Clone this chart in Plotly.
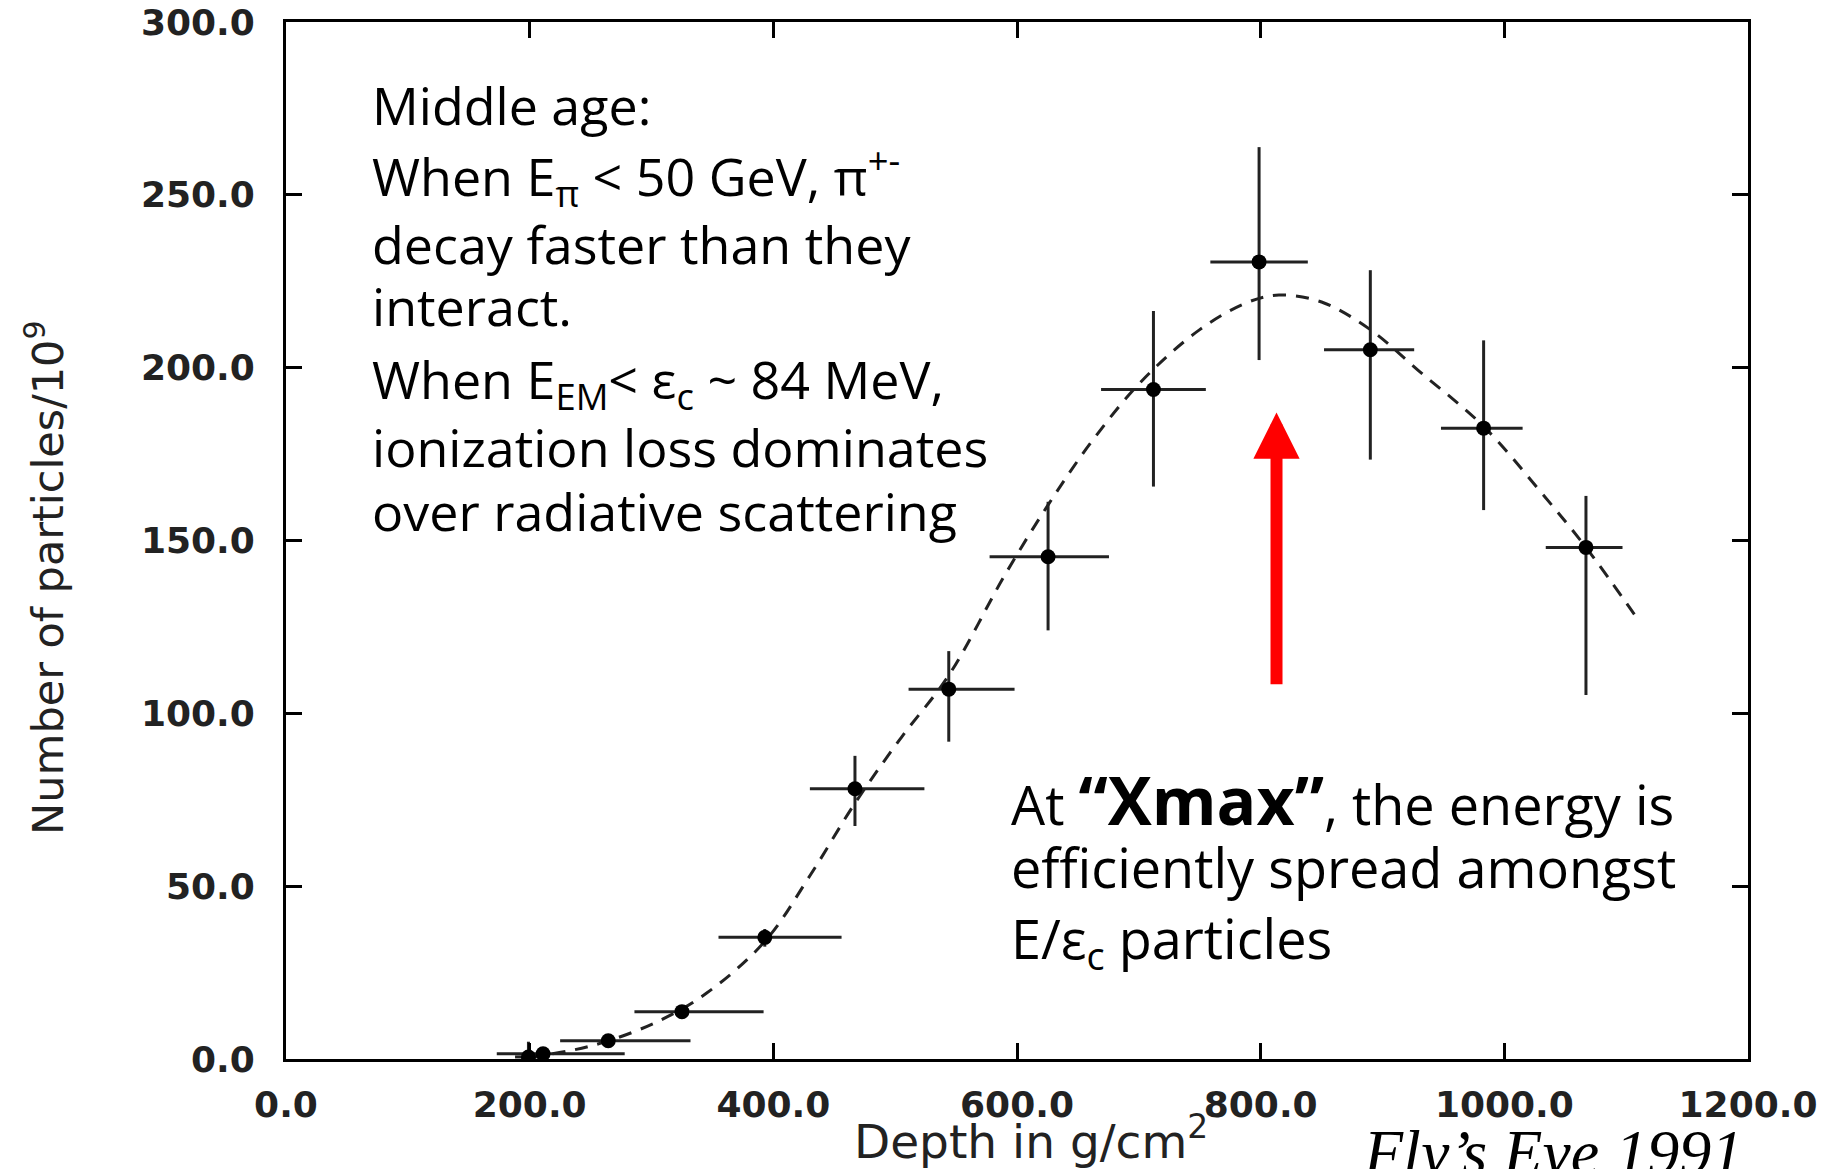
import plotly.graph_objects as go

# Shower profile: depth (g/cm^2) vs number of particles (units of 1e9)
depth = [199, 211, 264.5, 325, 393, 467, 544, 625.5, 712, 798.7, 890, 983, 1067]
particles = [0.6, 1.5, 5.3, 13.7, 35.2, 78.2, 107, 145.3, 193.7, 230.6, 205.2, 182.5, 148]
depth_err_lo = [11, 38, 39.5, 39, 38, 37, 33, 48, 43, 40, 38, 35, 33]
depth_err_hi = [8, 67, 67.5, 67, 63, 57, 54, 50, 43, 40, 36, 32, 30]
part_err_lo = [0.6, 0, 0, 0, 2.7, 10.8, 15.2, 21.3, 28.1, 28.4, 31.8, 23.7, 42.7]
part_err_hi = [4.4, 0, 0, 0, 2.4, 9.5, 11, 15.9, 22.7, 33.2, 23.0, 25.4, 14.9]

# Fitted longitudinal profile (dashed curve)
fit_depth = [200, 233, 265, 306, 345, 393, 430, 467, 505, 544, 590, 625, 660, 702,
             750, 790, 815, 850, 890, 930, 983, 1030, 1067, 1110]
fit_particles = [0.5, 2.4, 5.3, 11, 19, 34, 53, 74, 93, 111, 140, 160, 178, 196,
                 211, 219, 221, 219, 211, 199, 183, 164, 148, 127]

# Depth of shower maximum marked by the arrow
xmax_depth = 813
arrow_tip = 187
arrow_tail = 108

x_ticks = [0, 200, 400, 600, 800, 1000, 1200]
y_ticks = [0, 50, 100, 150, 200, 250, 300]

fig = go.Figure()

fig.add_trace(go.Scatter(
    x=fit_depth, y=fit_particles, mode="lines",
    line=dict(color="#222222", width=3, dash="13px,10px", shape="spline"),
    hoverinfo="skip", showlegend=False,
))

fig.add_trace(go.Scatter(
    x=depth, y=particles, mode="markers",
    marker=dict(color="black", size=15),
    error_x=dict(type="data", symmetric=False, array=depth_err_hi, arrayminus=depth_err_lo,
                 color="#222222", thickness=3, width=0),
    error_y=dict(type="data", symmetric=False, array=part_err_hi, arrayminus=part_err_lo,
                 color="#222222", thickness=3, width=0),
    showlegend=False,
))

axis_common = dict(
    showline=True, linecolor="black", linewidth=3, mirror="allticks",
    ticks="inside", ticklen=16, tickwidth=3, tickcolor="black",
    showgrid=False, zeroline=False, tickformat=".1f",
    tickfont=dict(family="DejaVu Sans", size=36, color="#222222", weight="bold"),
)

fig.update_xaxes(range=[0, 1200], tickvals=x_ticks, ticklabelstandoff=12, **axis_common)
fig.update_yaxes(range=[0, 300], tickvals=y_ticks, ticklabelstandoff=21, **axis_common)

annotations = []

# Axis titles
title_font = dict(family="DejaVu Sans", color="#222222")
annotations.append(dict(
    text="Depth in g/cm<sup>2</sup>", xref="paper", yref="paper", x=0.5096, y=-0.076,
    xanchor="center", yanchor="middle", showarrow=False, font=dict(size=47, **title_font),
))
annotations.append(dict(
    text="Number of particles/10<sup>9</sup>", xref="paper", yref="paper", x=-0.1648, y=0.464,
    xanchor="center", yanchor="middle", textangle=-90, showarrow=False,
    font=dict(size=43, **title_font),
))

# Text blocks
txt_font = dict(family="Open Sans", size=52, color="black")
left_lines = [
    ("Middle age:", 0.920),
    ("When E<sub>π</sub> &lt; 50 GeV, π<sup>+-</sup>", 0.851),
    ("decay faster than they", 0.786),
    ("interact.", 0.7266),
    ("When E<sub>EM</sub>&lt; ε<sub>c</sub> ~ 84 MeV,", 0.653),
    ("ionization loss dominates", 0.5905),
    ("over radiative scattering", 0.5288),
]
for text, yy in left_lines:
    annotations.append(dict(text=text, xref="paper", yref="paper", x=0.0575, y=yy,
                            xanchor="left", yanchor="middle", showarrow=False, font=txt_font))

right_font = dict(family="Open Sans", size=54, color="black")
right_lines = [
    ("At <span style='font-size:66px'><b>“Xmax”</b></span>, the energy is", 0.251),
    ("efficiently spread amongst", 0.1853),
    ("E/ε<sub>c</sub> particles", 0.1138),
]
for text, yy in right_lines:
    annotations.append(dict(text=text, xref="paper", yref="paper", x=0.4945, y=yy,
                            xanchor="left", yanchor="middle", showarrow=False, font=right_font))

annotations.append(dict(
    text="Fly’s Eye 1991", xref="paper", yref="paper", x=0.998, y=-0.1265,
    xanchor="right", yanchor="bottom", showarrow=False,
    font=dict(family="Liberation Serif", size=64, color="black", style="italic"),
))

annotations.append(dict(
    x=xmax_depth, y=arrow_tip, ax=xmax_depth, ay=arrow_tail, xref="x", yref="y",
    axref="x", ayref="y", text="", showarrow=True, arrowhead=2, arrowsize=0.77,
    arrowwidth=12, arrowcolor="#ff0000", standoff=0,
))

fig.update_layout(
    width=1837, height=1169,
    margin=dict(l=286, r=89, t=22, b=110, autoexpand=False),
    paper_bgcolor="white", plot_bgcolor="white",
    annotations=annotations,
)

fig.write_html("out.html")
